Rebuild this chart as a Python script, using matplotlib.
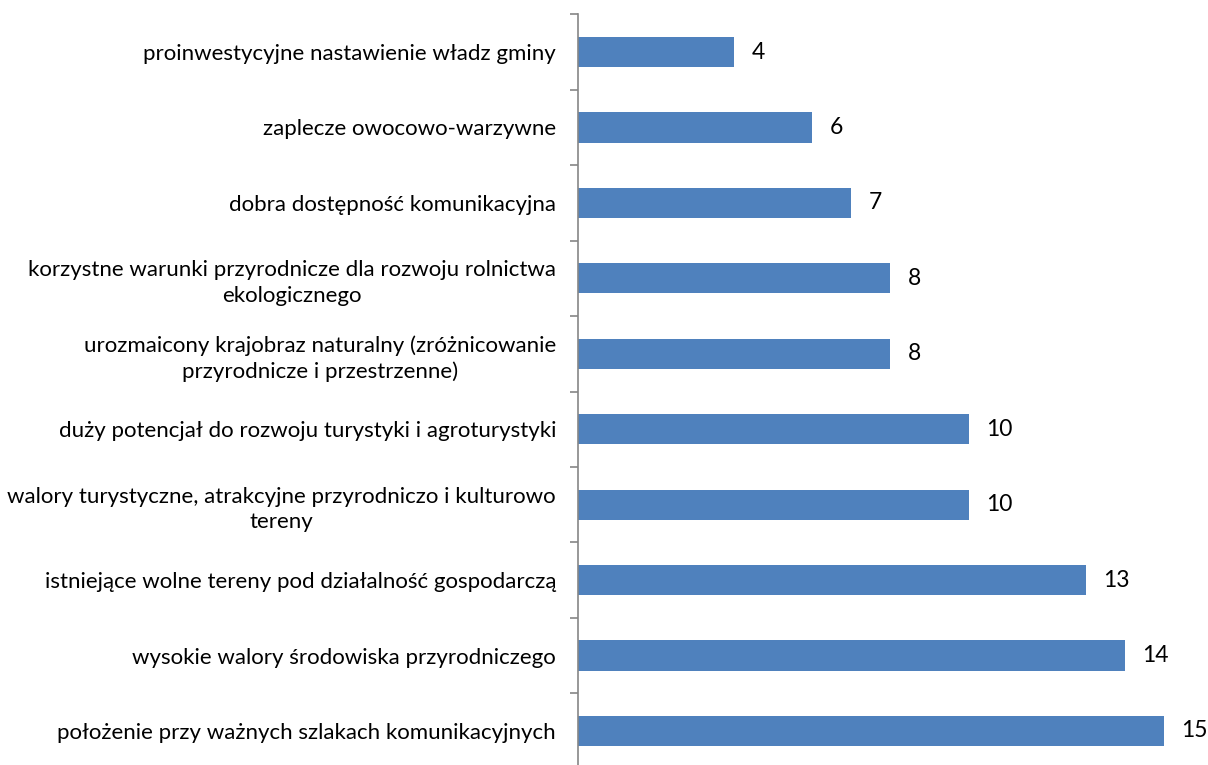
import matplotlib
matplotlib.use("Agg")
import matplotlib.pyplot as plt
from matplotlib.ticker import FixedLocator

categories = [
    "proinwestycyjne nastawienie władz gminy",
    "zaplecze owocowo-warzywne",
    "dobra dostępność komunikacyjna",
    "korzystne warunki przyrodnicze dla rozwoju rolnictwa\nekologicznego",
    "urozmaicony krajobraz naturalny (zróżnicowanie\nprzyrodnicze i przestrzenne)",
    "duży potencjał do rozwoju turystyki i agroturystyki",
    "walory turystyczne, atrakcyjne przyrodniczo i kulturowo\ntereny",
    "istniejące wolne tereny pod działalność gospodarczą",
    "wysokie walory środowiska przyrodniczego",
    "położenie przy ważnych szlakach komunikacyjnych",
]
values = [4, 6, 7, 8, 8, 10, 10, 13, 14, 15]

plt.rcParams['font.family'] = ['Lato', 'DejaVu Sans']

fig = plt.figure(figsize=(12.08, 7.65), dpi=100)
ax = fig.add_axes([578/1208, (765-768.7)/765, 625/1208, 754.4/765])

n = len(categories)
pos = list(range(n))
ax.barh(pos, values, height=0.4, color='#4F81BD', edgecolor='none')
ax.set_ylim(n - 0.5, -0.5)
ax.set_xlim(0, 16)

ax.set_yticks(pos)
ax.set_yticklabels(categories, fontsize=16, color='black',
                   multialignment='center', linespacing=1.35)
ax.yaxis.set_minor_locator(FixedLocator([p - 0.5 for p in range(n + 1)]))
ax.tick_params(axis='y', which='major', length=0, pad=15.8)
ax.tick_params(axis='y', which='minor', length=6, width=1.2, color='#868686')

for s in ['top', 'right', 'bottom']:
    ax.spines[s].set_visible(False)
ax.spines['left'].set_color('#868686')
ax.spines['left'].set_linewidth(1.2)
ax.set_xticks([])

for p, v in zip(pos, values):
    ax.annotate(str(v), (v, p), xytext=(17, 0), textcoords='offset pixels',
                va='center', ha='left', fontsize=16.5, color='black')

fig.savefig('out.png', dpi=100)
